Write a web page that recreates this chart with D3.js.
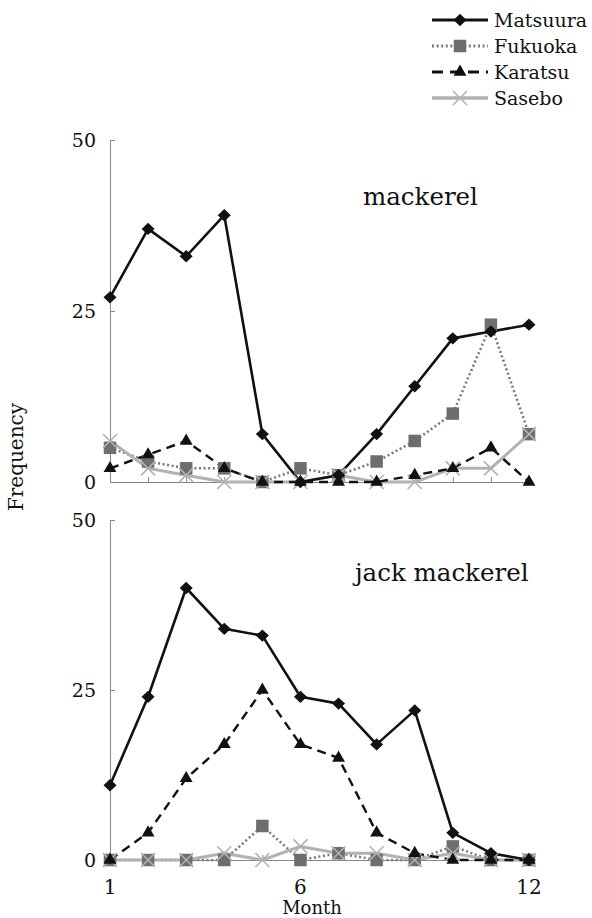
<!DOCTYPE html>
<html>
<head>
<meta charset="utf-8">
<script src="https://cdn.jsdelivr.net/npm/d3@7"></script>
<style>
  body { margin: 0; background: #fff; }
  text { font-family: "DejaVu Serif", "Liberation Serif", serif; fill: #111; }
</style>
</head>
<body>
<script>
// months on the x axis
var months = [1, 2, 3, 4, 5, 6, 7, 8, 9, 10, 11, 12];
var xTickLabels = [1, 6, 12];
var yTicks = [0, 25, 50];

// mackerel (top panel)
var mackMatsuura = [27, 37, 33, 39, 7, 0, 1, 7, 14, 21, 22, 23];
var mackFukuoka  = [5, 3, 2, 2, 0, 2, 1, 3, 6, 10, 23, 7];
var mackKaratsu  = [2, 4, 6, 2, 0, 0, 0, 0, 1, 2, 5, 0];
var mackSasebo   = [6, 2, 1, 0, 0, 0, 1, 0, 0, 2, 2, 7];

// jack mackerel (bottom panel)
var jackMatsuura = [11, 24, 40, 34, 33, 24, 23, 17, 22, 4, 1, 0];
var jackFukuoka  = [0, 0, 0, 0, 5, 0, 1, 0, 0, 2, 0, 0];
var jackKaratsu  = [0, 4, 12, 17, 25, 17, 15, 4, 1, 0, 0, 0];
var jackSasebo   = [0, 0, 0, 1, 0, 2, 1, 1, 0, 1, 0, 0];

var seriesNames = ['Matsuura', 'Fukuoka', 'Karatsu', 'Sasebo'];
var FONT = '"DejaVu Serif", "Liberation Serif", serif';

// line + marker styles per site
var styles = {
    Matsuura: { stroke: '#111', width: 2.6, dash: null, legDash: null, marker: 'diamond', fill: '#111', size: 6.5 },
    Fukuoka:  { stroke: '#7a7a7a', width: 2.6, dash: '2,2.6', legDash: '2,2.6', marker: 'square', fill: '#6e6e6e', size: 12.5 },
    Karatsu:  { stroke: '#111', width: 2.4, dash: '9,6', legDash: '11,7', marker: 'triangle', fill: '#111', size: 72 },
    Sasebo:   { stroke: '#b2b2b2', width: 3, dash: null, legDash: null, marker: 'cross', fill: '#b2b2b2', size: 14 }
};

var svg = d3.select('body').append('svg')
    .attr('width', 592).attr('height', 918);

var x = d3.scaleLinear().domain([1, 12]).range([110, 529]);

function drawMarker(g, kind, st, px, py) {
    if (kind === 'cross') {
        var h = st.size / 2;
        g.append('path')
            .attr('d', 'M' + (px - h) + ',' + (py - h) + 'L' + (px + h) + ',' + (py + h) +
                       'M' + (px - h) + ',' + (py + h) + 'L' + (px + h) + ',' + (py - h))
            .attr('stroke', st.fill).attr('stroke-width', 1.6).attr('fill', 'none');
    } else if (kind === 'diamond') {
        var w = st.size, hh = st.size * 0.95;
        g.append('path')
            .attr('d', 'M' + px + ',' + (py - hh) + 'L' + (px + w) + ',' + py +
                       'L' + px + ',' + (py + hh) + 'L' + (px - w) + ',' + py + 'Z')
            .attr('fill', st.fill);
    } else if (kind === 'square') {
        var s = st.size;
        g.append('rect').attr('x', px - s / 2).attr('y', py - s / 2)
            .attr('width', s).attr('height', s).attr('fill', st.fill);
    } else {
        g.append('path').attr('d', d3.symbol().type(d3.symbolTriangle).size(st.size)())
            .attr('transform', 'translate(' + px + ',' + py + ')').attr('fill', st.fill);
    }
}

function panel(top, bottom, data, title, titleX, titleY, showLabels) {
    var y = d3.scaleLinear().domain([0, 50]).range([bottom, top]);
    var g = svg.append('g');

    // y axis
    g.append('g')
        .attr('transform', 'translate(110,0)')
        .call(d3.axisRight(y).tickValues(yTicks).tickSize(5).tickFormat('').tickSizeOuter(0))
        .call(function (a) { a.selectAll('line, path').attr('stroke', '#888'); });
    yTicks.forEach(function (v) {
        g.append('text').attr('x', 96).attr('y', y(v) + 7)
            .attr('font-family', FONT)
            .attr('text-anchor', 'end').attr('font-size', 19).text(v);
    });

    // x axis
    g.append('g')
        .attr('transform', 'translate(0,' + bottom + ')')
        .call(d3.axisTop(x).tickValues(months).tickSize(5).tickFormat('').tickSizeOuter(0))
        .call(function (a) { a.selectAll('line, path').attr('stroke', '#888'); });
    if (showLabels) {
        xTickLabels.forEach(function (v) {
            g.append('text').attr('x', x(v)).attr('y', bottom + 34)
                .attr('font-family', FONT)
                .attr('text-anchor', 'middle').attr('font-size', 20).text(v);
        });
    }

    g.append('text').attr('x', titleX).attr('y', titleY)
        .attr('font-family', FONT)
        .attr('font-size', 24.5).text(title);

    var line = d3.line().x(function (d, i) { return x(months[i]); }).y(function (d) { return y(d); });
    var order = ['Fukuoka', 'Sasebo', 'Karatsu', 'Matsuura'];
    order.forEach(function (name) {
        var st = styles[name];
        g.append('path').datum(data[name]).attr('d', line)
            .attr('fill', 'none').attr('stroke', st.stroke)
            .attr('stroke-width', st.width)
            .attr('stroke-linejoin', 'round')
            .attr('stroke-dasharray', st.dash);
    });
    order.forEach(function (name) {
        var st = styles[name];
        data[name].forEach(function (d, i) {
            drawMarker(g, st.marker, st, x(months[i]), y(d));
        });
    });
}

panel(140, 482,
    { Matsuura: mackMatsuura, Fukuoka: mackFukuoka, Karatsu: mackKaratsu, Sasebo: mackSasebo },
    'mackerel', 363, 205, false);
panel(520, 860,
    { Matsuura: jackMatsuura, Fukuoka: jackFukuoka, Karatsu: jackKaratsu, Sasebo: jackSasebo },
    'jack mackerel', 355, 581, true);

// axis titles
svg.append('text').attr('x', 312).attr('y', 914).attr('text-anchor', 'middle')
    .attr('font-family', FONT).attr('font-size', 18).text('Month');
svg.append('text').attr('transform', 'translate(23,457) rotate(-90)')
    .attr('font-family', FONT)
    .attr('text-anchor', 'middle').attr('font-size', 20).text('Frequency');

// legend
var legY = [20, 46, 72, 98];
seriesNames.forEach(function (name, i) {
    var st = styles[name];
    var lg = svg.append('g');
    lg.append('line').attr('x1', 432).attr('x2', 488).attr('y1', legY[i]).attr('y2', legY[i])
        .attr('stroke', st.stroke).attr('stroke-width', st.width + 0.6)
        .attr('stroke-dasharray', st.legDash);
    drawMarker(lg, st.marker, st, 460, legY[i]);
    lg.append('text').attr('x', 494).attr('y', legY[i] + 7)
        .attr('font-family', FONT).attr('font-size', 19).text(name);
});
</script>
</body>
</html>
